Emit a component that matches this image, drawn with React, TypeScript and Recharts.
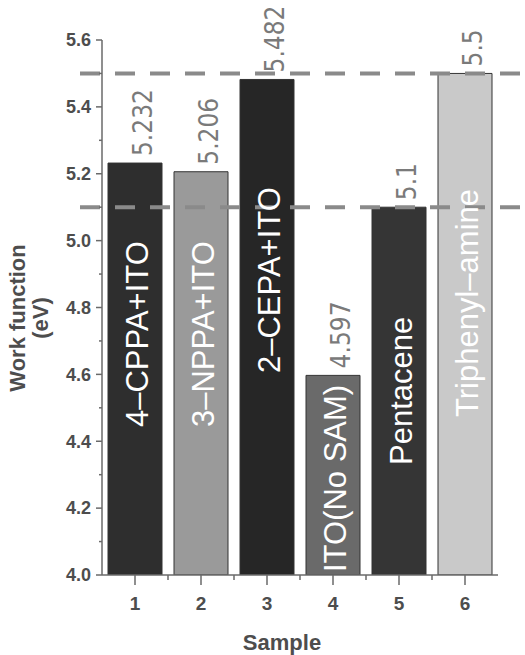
import React from "react";
import {
  BarChart,
  Bar,
  Cell,
  XAxis,
  YAxis,
  ReferenceLine,
  LabelList,
  Label,
} from "recharts";

const samples = [1, 2, 3, 4, 5, 6];
const workFunction = [5.232, 5.206, 5.482, 4.597, 5.1, 5.5];
const valueText = ["5.232", "5.206", "5.482", "4.597", "5.1", "5.5"];
const materials = [
  "4–CPPA+ITO",
  "3–NPPA+ITO",
  "2–CEPA+ITO",
  "ITO(No SAM)",
  "Pentacene",
  "Triphenyl–amine",
];
const levels = [5.5, 5.1];
const yTicks = [4.0, 4.2, 4.4, 4.6, 4.8, 5.0, 5.2, 5.4, 5.6];
const yMinorTicks = [4.1, 4.3, 4.5, 4.7, 4.9, 5.1, 5.3, 5.5];
const xMinorTicks = [1.5, 2.5, 3.5, 4.5, 5.5];

// styling only
const barFills = ["#2e2e2e", "#9a9a9a", "#262626", "#6a6a6a", "#353535", "#c9c9c9"];
const innerLift = [148, 148, 202, 3, 110, 158];

const data = samples.map((s, i) => ({
  sample: s,
  value: workFunction[i],
  label: valueText[i],
  material: materials[i],
}));

const allYTicks = [...yTicks, ...yMinorTicks].sort((a, b) => a - b);
const allXTicks = [...samples, ...xMinorTicks].sort((a, b) => a - b);
const isMajor = (v: number, list: number[]) =>
  list.some((t) => Math.abs(t - v) < 1e-6);

const textGray = "#4d4d4d";
const axisGray = "#6a6a6a";
const font = "'Liberation Sans', Arial, sans-serif";

const YTick = (props: any) => {
  const { x, y, payload } = props;
  const axisX = x + 11;
  const major = isMajor(payload.value, yTicks);
  return (
    <g>
      <line
        x1={axisX - (major ? 6 : 3)}
        x2={axisX}
        y1={y}
        y2={y}
        stroke={axisGray}
        strokeWidth={1.5}
      />
      {major && (
        <text
          x={x}
          y={y}
          dy="0.35em"
          textAnchor="end"
          fill={textGray}
          fontSize={18}
          fontWeight="bold"
          fontFamily={font}
        >
          {payload.value.toFixed(1)}
        </text>
      )}
    </g>
  );
};

const XTick = (props: any) => {
  const { x, y, payload } = props;
  const axisY = y - 22;
  const major = isMajor(payload.value, samples);
  return (
    <g>
      <line
        x1={x}
        x2={x}
        y1={axisY}
        y2={axisY + (major ? 10 : 5)}
        stroke={axisGray}
        strokeWidth={1.5}
      />
      {major && (
        <text
          x={x}
          y={y}
          dy="0.71em"
          textAnchor="middle"
          fill={textGray}
          fontSize={19}
          fontWeight="bold"
          fontFamily={font}
        >
          {payload.value}
        </text>
      )}
    </g>
  );
};

const ValueLabel = (props: any) => {
  const { x, y, width, value } = props;
  const cx = x + width / 2 + 8;
  const by = y - 7;
  return (
    <text
      x={cx}
      y={by}
      transform={`rotate(-90 ${cx} ${by})`}
      textAnchor="start"
      dominantBaseline="central"
      fill="#7a7a7a"
      fontSize={26}
      fontFamily="'Liberation Sans Narrow', 'DejaVu Sans Condensed', sans-serif"
    >
      {value}
    </text>
  );
};

const InnerLabel = (props: any) => {
  const { x, y, width, height, value, index } = props;
  const cx = x + width / 2 + 2;
  const by = y + height - (innerLift[index] ?? 0);
  return (
    <text
      x={cx}
      y={by}
      transform={`rotate(-90 ${cx} ${by})`}
      textAnchor="start"
      dominantBaseline="central"
      fill="#ffffff"
      fontSize={31}
      fontFamily={font}
    >
      {value}
    </text>
  );
};

const LevelLine = (props: any) => (
  <line
    x1={80}
    x2={525}
    y1={props.y1}
    y2={props.y2}
    stroke="#8a8a8a"
    strokeWidth={4}
    strokeDasharray="20 15"
  />
);

export default function App() {
  return (
    <div style={{ position: "absolute", left: 0, top: 0 }}>
      <BarChart
        width={525}
        height={655}
        data={data}
        margin={{ top: 40, right: 27, left: 0, bottom: 0 }}
      >
        <XAxis
          dataKey="sample"
          type="number"
          domain={[0.5, 6.5]}
          allowDataOverflow
          ticks={allXTicks}
          interval={0}
          height={80}
          tickSize={10}
          tickMargin={12}
          tickLine={false}
          stroke={axisGray}
          strokeWidth={1.5}
          tick={XTick}
        >
          <Label
            content={({ viewBox }: any) => (
              <text
                x={viewBox.x + 180}
                y={viewBox.y + 75}
                textAnchor="middle"
                fill={textGray}
                fontSize={22}
                fontWeight="bold"
                fontFamily={font}
              >
                Sample
              </text>
            )}
          />
        </XAxis>
        <YAxis
          domain={[4.0, 5.6]}
          allowDataOverflow
          ticks={allYTicks}
          interval={0}
          width={102}
          tickSize={6}
          tickMargin={5}
          tickLine={false}
          stroke={axisGray}
          strokeWidth={1.5}
          tick={YTick}
        >
          <Label
            content={() => (
              <g transform="rotate(-90 31 318)">
                <text
                  x={31}
                  y={318}
                  textAnchor="middle"
                  fill={textGray}
                  fontSize={22}
                  fontWeight="bold"
                  fontFamily={font}
                >
                  <tspan x={31} dy={-6}>Work function</tspan>
                  <tspan x={31} dy={23}>(eV)</tspan>
                </text>
              </g>
            )}
          />
        </YAxis>
        <Bar
          dataKey="value"
          barSize={54}
          stroke="#333333"
          strokeWidth={1}
          isAnimationActive={false}
        >
          {data.map((d, i) => (
            <Cell key={d.sample} fill={barFills[i]} />
          ))}
          <LabelList dataKey="label" content={ValueLabel} />
          <LabelList dataKey="material" content={InnerLabel} />
        </Bar>
        {levels.map((lv) => (
          <ReferenceLine key={lv} y={lv} shape={LevelLine} />
        ))}
      </BarChart>
    </div>
  );
}
